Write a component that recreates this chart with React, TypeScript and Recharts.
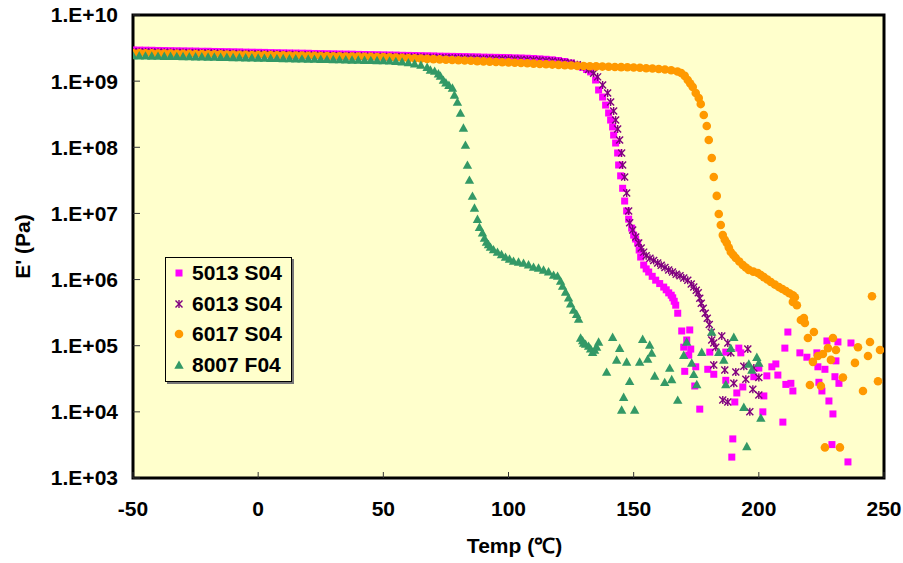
import { ScatterChart, Scatter, XAxis, YAxis, CartesianGrid, ReferenceArea, Label } from 'recharts'

type Pt = [number, number]

const xTicks = [-50, 0, 50, 100, 150, 200, 250]
const yTicks = [1e3, 1e4, 1e5, 1e6, 1e7, 1e8, 1e9, 1e10]

// 5013 S04
const s5013: Pt[] = [
  [-50, 2.96e9], [-47.5, 2.95e9], [-45, 2.94e9], [-42.5, 2.93e9], [-40, 2.91e9], [-37.5, 2.9e9], [-35, 2.89e9], [-32.5, 2.88e9],
  [-30, 2.87e9], [-27.5, 2.86e9], [-25, 2.85e9], [-22.5, 2.83e9], [-20, 2.83e9], [-17.5, 2.81e9], [-15, 2.8e9], [-12.5, 2.79e9],
  [-10, 2.78e9], [-7.5, 2.77e9], [-5, 2.75e9], [-2.5, 2.74e9], [0, 2.73e9], [2.5, 2.72e9], [5, 2.7e9], [7.5, 2.69e9],
  [10, 2.68e9], [12.5, 2.67e9], [15, 2.66e9], [17.5, 2.65e9], [20, 2.64e9], [22.5, 2.62e9], [25, 2.61e9], [27.5, 2.6e9],
  [30, 2.59e9], [32.5, 2.58e9], [35, 2.57e9], [37.5, 2.56e9], [40, 2.54e9], [42.5, 2.53e9], [45, 2.52e9], [47.5, 2.51e9],
  [50, 2.5e9], [52.5, 2.49e9], [55, 2.48e9], [57.5, 2.46e9], [60, 2.45e9], [62.5, 2.44e9], [65, 2.43e9], [67.5, 2.42e9],
  [70, 2.41e9], [72.5, 2.39e9], [75, 2.38e9], [77.5, 2.37e9], [80, 2.36e9], [82.5, 2.35e9], [85, 2.34e9], [87.5, 2.33e9],
  [90, 2.31e9], [92.5, 2.3e9], [95, 2.29e9], [97.5, 2.28e9], [100, 2.27e9], [102.5, 2.25e9], [105, 2.24e9], [107.5, 2.22e9],
  [110, 2.2e9], [112.5, 2.17e9], [115, 2.14e9], [117.5, 2.1e9], [120, 2.05e9], [122.5, 1.98e9], [125, 1.88e9], [127.5, 1.75e9],
  [129.5, 1.62e9], [131.2, 1.5e9], [132.8, 1.38e9], [134.8, 1.04e9], [136, 7.35e8], [137.6, 5.75e8], [138.8, 4.35e8],
  [140, 3.3e8], [140.8, 2.58e8], [141.6, 2.03e8], [142, 1.53e8], [142.8, 1.16e8], [143.6, 8.2e7], [144, 5.4e7], [144.8, 3.7e7],
  [145.6, 2.4e7], [146.4, 1.54e7], [147.2, 1.09e7], [148, 8.2e6], [149.2, 6.0e6], [150, 4.7e6], [150.8, 4.1e6], [151.6, 3.57e6],
  [152.2, 2.8e6], [152.8, 2.19e6], [154, 1.66e6], [155, 1.45e6], [156, 1.3e6], [157.4, 1.12e6], [158.8, 9.8e5], [160.4, 8.7e5],
  [162, 7.7e5], [163, 7.0e5], [164, 6.3e5], [165, 5.8e5], [165.6, 5.3e5], [166.2, 4.7e5], [166.8, 4.1e5], [167.6, 3.1e5],
  [169.2, 1.67e5], [172.4, 1.73e5], [171.2, 1.22e5], [170, 9.5e4], [172.8, 8.9e4], [172, 7.2e4], [170.4, 4.1e4], [174.8, 4.8e4],
  [176.4, 1.1e4], [174.4, 2.46e4], [179.6, 4.4e4], [182, 3.7e4], [180.4, 8.0e4], [186.8, 8.0e4], [192, 9.2e4], [192.8, 7.8e4],
  [200, 4.6e4], [203.2, 3.5e4], [205.2, 4.8e4], [206.8, 5.3e4], [207.6, 3.6e4], [210.8, 2.6e4], [212.8, 2.7e4], [213.6, 2.07e4],
  [202, 1.74e4], [191.2, 1.93e4], [193.6, 2.38e4], [186.8, 3.0e4], [190.4, 1.41e4], [201.6, 1.0e4], [209.6, 7.0e3], [189.6, 3.9e3],
  [189.2, 2.07e3], [211.6, 1.61e5], [210.4, 9.2e4], [216.4, 7.8e4], [219.2, 6.7e4], [223.2, 7.8e4], [223.6, 4.8e4], [226.4, 4.4e4],
  [227.2, 1.18e5], [231.6, 1.14e5], [236.8, 1.1e5], [230.8, 5.9e4], [224, 2.8e4], [230.4, 3.4e4], [232, 2.7e4], [225.2, 2.07e4],
  [228, 1.46e4], [229.6, 9.3e3], [229.2, 3.2e3], [235.6, 1.75e3], [198, 3.4e4],
]

// 6013 S04
const s6013: Pt[] = [
  [-50, 2.79e9], [-47.5, 2.78e9], [-45, 2.77e9], [-42.5, 2.76e9], [-40, 2.74e9], [-37.5, 2.73e9], [-35, 2.72e9], [-32.5, 2.71e9],
  [-30, 2.7e9], [-27.5, 2.69e9], [-25, 2.68e9], [-22.5, 2.67e9], [-20, 2.66e9], [-17.5, 2.65e9], [-15, 2.64e9], [-12.5, 2.62e9],
  [-10, 2.61e9], [-7.5, 2.6e9], [-5, 2.59e9], [-2.5, 2.58e9], [0, 2.57e9], [2.5, 2.56e9], [5, 2.55e9], [7.5, 2.54e9],
  [10, 2.53e9], [12.5, 2.52e9], [15, 2.5e9], [17.5, 2.49e9], [20, 2.48e9], [22.5, 2.47e9], [25, 2.46e9], [27.5, 2.45e9],
  [30, 2.44e9], [32.5, 2.43e9], [35, 2.42e9], [37.5, 2.41e9], [40, 2.4e9], [42.5, 2.38e9], [45, 2.37e9], [47.5, 2.36e9],
  [50, 2.35e9], [52.5, 2.34e9], [55, 2.33e9], [57.5, 2.32e9], [60, 2.31e9], [62.5, 2.3e9], [65, 2.29e9], [67.5, 2.28e9],
  [70, 2.27e9], [72.5, 2.26e9], [75, 2.25e9], [77.5, 2.24e9], [80, 2.23e9], [82.5, 2.22e9], [85, 2.21e9], [87.5, 2.2e9],
  [90, 2.19e9], [92.5, 2.18e9], [95, 2.17e9], [97.5, 2.16e9], [100, 2.15e9], [102.5, 2.14e9], [105, 2.13e9], [107.5, 2.11e9],
  [110, 2.09e9], [112.5, 2.07e9], [115, 2.04e9], [117.5, 2.01e9], [120, 1.97e9], [122.5, 1.92e9], [125, 1.86e9], [127.5, 1.77e9],
  [130, 1.65e9], [132, 1.5e9], [134, 1.32e9], [135.6, 1.16e9], [137.6, 8.75e8], [139.6, 6.6e8], [140.8, 4.84e8], [142, 3.54e8],
  [142.8, 2.58e8], [143.6, 1.89e8], [144.4, 1.29e8], [145.2, 8.2e7], [145.6, 5.4e7], [146.4, 3.56e7], [147.2, 2.04e7],
  [148, 1.09e7], [148.4, 7.2e6], [149.6, 5.6e6], [150.8, 4.4e6], [152, 3.57e6], [153, 3.0e6], [154, 2.6e6], [155, 2.3e6],
  [156.5, 2.1e6], [158, 1.95e6], [159.6, 1.78e6], [161, 1.65e6], [162.5, 1.52e6], [164, 1.4e6], [165.5, 1.3e6], [167, 1.2e6],
  [168.5, 1.14e6], [170, 1.06e6], [171.6, 9.8e5], [173, 8.6e5], [174, 7.7e5], [175, 6.9e5], [175.8, 6.3e5], [176.4, 5.2e5],
  [177, 4.4e5], [177.8, 3.7e5], [178.6, 3.1e5], [179.4, 2.6e5], [180.2, 2.1e5], [181, 1.6e5], [181.2, 1.22e5], [182, 1.1e5],
  [182.8, 9.5e4], [185.2, 1.4e5], [187.6, 1.1e5], [188.8, 7.8e4], [195.6, 8.9e4], [182, 5.1e4], [186.4, 4.3e4], [190.8, 4.0e4],
  [190, 2.7e4], [194.8, 3.1e4], [194, 4.9e4], [198, 4.6e4], [200, 3.3e4], [197.6, 2.2e4], [200, 1.8e4], [185.6, 1.51e4],
  [187.6, 1.41e4], [196.4, 1.0e4],
]

// 6017 S04
const s6017: Pt[] = [
  [-50, 2.66e9], [-47.5, 2.65e9], [-45, 2.64e9], [-42.5, 2.63e9], [-40, 2.62e9], [-37.5, 2.61e9], [-35, 2.61e9], [-32.5, 2.6e9],
  [-30, 2.59e9], [-27.5, 2.58e9], [-25, 2.57e9], [-22.5, 2.56e9], [-20, 2.55e9], [-17.5, 2.55e9], [-15, 2.54e9], [-12.5, 2.53e9],
  [-10, 2.52e9], [-7.5, 2.51e9], [-5, 2.5e9], [-2.5, 2.49e9], [0, 2.49e9], [2.5, 2.48e9], [5, 2.47e9], [7.5, 2.46e9],
  [10, 2.45e9], [12.5, 2.44e9], [15, 2.43e9], [17.5, 2.43e9], [20, 2.42e9], [22.5, 2.41e9], [25, 2.4e9], [27.5, 2.39e9],
  [30, 2.38e9], [32.5, 2.37e9], [35, 2.36e9], [37.5, 2.36e9], [40, 2.35e9], [42.5, 2.34e9], [45, 2.33e9], [47.5, 2.32e9],
  [50, 2.31e9], [52.5, 2.29e9], [55, 2.27e9], [57.5, 2.25e9], [60, 2.23e9], [62.5, 2.21e9], [65, 2.19e9], [67.5, 2.17e9],
  [70, 2.15e9], [72.5, 2.13e9], [75, 2.11e9], [77.5, 2.09e9], [80, 2.07e9], [82.5, 2.05e9], [85, 2.03e9], [87.5, 2.01e9],
  [90, 1.99e9], [92.5, 1.97e9], [95, 1.95e9], [97.5, 1.93e9], [100, 1.92e9], [102.5, 1.9e9], [105, 1.88e9], [107.5, 1.86e9],
  [110, 1.84e9], [112.5, 1.82e9], [115, 1.8e9], [117.5, 1.78e9], [120, 1.76e9], [122.5, 1.74e9], [125, 1.72e9], [127.5, 1.7e9],
  [130, 1.69e9], [132.5, 1.68e9], [135, 1.67e9], [137.5, 1.66e9], [140, 1.65e9], [142.5, 1.64e9], [145, 1.63e9], [147.5, 1.62e9],
  [150, 1.61e9], [152.5, 1.59e9], [155, 1.57e9], [157.5, 1.55e9], [160, 1.53e9], [162.5, 1.5e9], [165, 1.46e9], [167.5, 1.4e9],
  [169, 1.33e9], [170.4, 1.2e9], [171.6, 1.04e9], [172.6, 9.2e8], [173.6, 8.15e8], [174.8, 6.6e8], [176, 5.56e8], [176.8, 4.5e8],
  [178, 3.08e8], [179.2, 2.1e8], [180, 1.29e8], [181.2, 6.9e7], [182, 3.56e7], [183.2, 1.84e7], [184, 9.8e6], [184.8, 6.7e6],
  [185.6, 4.7e6], [186.4, 4.0e6], [187.2, 3.57e6], [188, 3.05e6], [188.8, 2.61e6], [189.8, 2.35e6], [190.8, 2.12e6],
  [192.2, 1.88e6], [193.6, 1.66e6], [194.8, 1.52e6], [196, 1.4e6], [197.8, 1.32e6], [199.6, 1.26e6], [200.8, 1.17e6],
  [202, 1.09e6], [203.4, 1.0e6], [204.8, 9.2e5], [206.4, 8.4e5], [208, 7.7e5], [209.4, 7.2e5], [210.8, 6.7e5], [212.2, 6.2e5],
  [213.6, 5.8e5], [214.4, 5.4e5], [213.6, 4.6e5], [215.2, 4.1e5], [216.8, 2.45e5], [218, 2.63e5], [218.4, 2.2e5], [222, 1.61e5],
  [219.6, 1.31e5], [229.6, 1.31e5], [227.6, 9.2e4], [230.8, 8.6e4], [225.6, 7.5e4], [223.6, 7.0e4], [221.6, 5.7e4], [228.8, 6.1e4],
  [239.6, 9.5e4], [244.4, 1.14e5], [248.4, 8.6e4], [243.6, 7.0e4], [238.4, 5.5e4], [233.6, 3.3e4], [224.8, 2.46e4], [220.4, 2.55e4],
  [241.6, 2.07e4], [247.6, 2.9e4], [226.4, 2.9e3], [232.4, 2.9e3], [245.2, 5.6e5],
]

// 8007 F04
const s8007: Pt[] = [
  [-50, 2.44e9], [-47.5, 2.43e9], [-45, 2.42e9], [-42.5, 2.41e9], [-40, 2.4e9], [-37.5, 2.39e9], [-35, 2.39e9], [-32.5, 2.38e9],
  [-30, 2.37e9], [-27.5, 2.36e9], [-25, 2.35e9], [-22.5, 2.34e9], [-20, 2.33e9], [-17.5, 2.32e9], [-15, 2.31e9], [-12.5, 2.3e9],
  [-10, 2.29e9], [-7.5, 2.28e9], [-5, 2.27e9], [-2.5, 2.26e9], [0, 2.25e9], [2.5, 2.24e9], [5, 2.23e9], [7.5, 2.22e9],
  [10, 2.21e9], [12.5, 2.2e9], [15, 2.19e9], [17.5, 2.18e9], [20, 2.17e9], [22.5, 2.16e9], [25, 2.15e9], [27.5, 2.14e9],
  [30, 2.13e9], [32.5, 2.12e9], [35, 2.11e9], [37.5, 2.1e9], [40, 2.09e9], [42.5, 2.08e9], [45, 2.07e9], [47.5, 2.06e9],
  [50, 2.05e9], [52.5, 2.03e9], [55, 2.0e9], [57.5, 1.96e9], [60, 1.91e9], [62.5, 1.84e9], [65, 1.75e9], [67.5, 1.63e9],
  [68.8, 1.48e9], [70.5, 1.42e9], [72, 1.3e9], [72.8, 1.2e9], [74, 1.04e9], [75, 9.5e8], [76.2, 8.7e8], [77.6, 7.9e8],
  [78.4, 6.2e8], [79.6, 4.84e8], [80.8, 3.3e8], [82, 1.96e8], [82.8, 1.08e8], [83.6, 5.4e7], [84.4, 3.2e7], [85.6, 1.83e7],
  [86.4, 1.21e7], [87.6, 8.2e6], [88.4, 6.2e6], [89.6, 5.1e6], [90.4, 4.25e6], [91.2, 3.7e6], [92, 3.4e6], [92.8, 3.1e6],
  [94, 2.85e6], [95.6, 2.61e6], [97.2, 2.4e6], [98.8, 2.19e6], [100.4, 2.05e6], [102, 1.91e6], [104, 1.85e6], [106, 1.78e6],
  [108, 1.68e6], [110, 1.55e6], [112, 1.5e6], [114, 1.4e6], [116, 1.32e6], [118, 1.17e6], [119.6, 1.13e6], [120.8, 9.5e5],
  [121.6, 8.0e5], [122.8, 6.5e5], [124, 5.3e5], [124.8, 4.3e5], [126, 3.47e5], [127.2, 3.0e5], [128, 2.53e5], [128.8, 1.31e5],
  [129.6, 1.2e5], [130, 1.1e5], [130.8, 1.06e5], [132, 9.9e4], [132.8, 9.0e4], [133.6, 8.0e4], [134.4, 8.6e4], [135.2, 9.6e4],
  [136, 1.14e5], [141.6, 1.35e5], [144.4, 9.2e4], [143.2, 6.1e4], [147.2, 5.7e4], [139.2, 4.0e4], [148.4, 2.9e4], [146, 1.67e4],
  [145.2, 1.07e4], [150.4, 1.07e4], [153.6, 1.26e5], [156.4, 1.03e5], [157.2, 7.8e4], [155.6, 6.3e4], [152.4, 5.7e4],
  [158.4, 3.5e4], [164.4, 4.6e4], [162.4, 2.8e4], [165.2, 3.1e4], [167.6, 1.51e4], [171.2, 1.14e5], [170, 7.2e4], [173.2, 5.5e4],
  [174, 3.7e4], [175.2, 2.6e4], [177.2, 8.0e4], [181.2, 1.61e5], [184, 8.0e4], [186, 6.1e4], [188.8, 9.2e4], [190, 1.35e5],
  [186.8, 2.6e4], [194, 1.18e4], [195.2, 3.0e3], [196, 5.3e4], [199.2, 6.7e4], [200, 5.5e4], [197.2, 4.3e4], [200.8, 8.1e3],
]

const font = '"Liberation Sans", Arial, sans-serif'
const plotBg = '#FFFFCC'

type Kind = 'square' | 'star' | 'circle' | 'triangle'

const series: { name: string; color: string; kind: Kind; data: Pt[] }[] = [
  { name: '5013 S04', color: '#FF00FF', kind: 'square', data: s5013 },
  { name: '6013 S04', color: '#800080', kind: 'star', data: s6013 },
  { name: '6017 S04', color: '#FF9900', kind: 'circle', data: s6017 },
  { name: '8007 F04', color: '#339966', kind: 'triangle', data: s8007 },
]

function Marker({ kind, cx, cy, color }: { kind: Kind; cx: number; cy: number; color: string }) {
  if (kind === 'square') return <rect x={cx - 3.5} y={cy - 3.5} width={7} height={7} fill={color} />
  if (kind === 'circle') return <circle cx={cx} cy={cy} r={4.3} fill={color} />
  if (kind === 'triangle')
    return <polygon points={`${cx},${cy - 4.6} ${cx + 4.7},${cy + 3.8} ${cx - 4.7},${cy + 3.8}`} fill={color} />
  return (
    <g stroke={color} strokeWidth={1.4}>
      <line x1={cx - 3.5} y1={cy - 3.5} x2={cx + 3.5} y2={cy + 3.5} />
      <line x1={cx - 3.5} y1={cy + 3.5} x2={cx + 3.5} y2={cy - 3.5} />
      <line x1={cx} y1={cy - 4} x2={cx} y2={cy + 4} />
    </g>
  )
}

const yFmt = (v: number) => `1.E+${String(Math.round(Math.log10(v))).padStart(2, '0')}`

const labelStyle = { fontSize: 21, fontWeight: 'bold', fontFamily: font }

// tick size + margin, so the inward tick mark starts at the plot edge
const X_GAP = 23
const Y_GAP = 15

function XTick({ x, y, payload }: any) {
  const edge = y - X_GAP
  return (
    <g>
      <line x1={x} y1={edge} x2={x} y2={edge - 6} stroke="#333" />
      <text x={x} y={y} dy="0.71em" textAnchor="middle" fill="#000" style={labelStyle}>{payload.value}</text>
    </g>
  )
}

function YTick({ x, y, payload }: any) {
  const edge = x + Y_GAP
  return (
    <g>
      <line x1={edge} y1={y} x2={edge + 7} y2={y} stroke="#333" />
      <text x={x} y={y} dy="0.355em" textAnchor="end" fill="#000" style={labelStyle}>{yFmt(payload.value)}</text>
    </g>
  )
}

function XTitle(props: any) {
  const vb = props.viewBox ?? { x: 133, y: 478, width: 751, height: 85 }
  return (
    <text x={vb.x + vb.width / 2 + 6} y={vb.y + vb.height - 10} textAnchor="middle" style={labelStyle} fill="#000">
      Temp (℃)
    </text>
  )
}

function YTitle(props: any) {
  const vb = props.viewBox ?? { x: 0, y: 15, width: 133, height: 463 }
  const cx = vb.x + 22
  const cy = vb.y + vb.height / 2
  return (
    <text x={cx} y={cy} transform={`rotate(-90 ${cx} ${cy})`} textAnchor="middle" dominantBaseline="central"
      style={labelStyle} fill="#000">
      E' (Pa)
    </text>
  )
}

export default function App() {
  return (
    <div style={{ position: 'absolute', left: 0, top: 0, width: 903, height: 563, background: '#fff' }}>
      <ScatterChart width={903} height={563} margin={{ top: 15, right: 19, bottom: 0, left: 0 }}>
        <CartesianGrid horizontal={false} vertical={false} fill={plotBg} />
        <XAxis type="number" dataKey="t" domain={[-50, 250]} ticks={xTicks} interval={0} allowDataOverflow
          height={85} axisLine={false} tickLine={false} tickSize={6} tickMargin={17} tick={<XTick />}>
          <Label content={<XTitle />} />
        </XAxis>
        <YAxis type="number" dataKey="e" scale="log" domain={[1e3, 1e10]} ticks={yTicks} interval={0} allowDataOverflow
          width={133} axisLine={false} tickLine={false} tickSize={6} tickMargin={9} tick={<YTick />}>
          <Label content={<YTitle />} />
        </YAxis>
        {series.map((s) => (
          <Scatter key={s.name} name={s.name} data={s.data.map(([t, e]) => ({ t, e }))} isAnimationActive={false}
            shape={(p: any) => <Marker kind={s.kind} cx={p.cx} cy={p.cy} color={s.color} />} />
        ))}
        <ReferenceArea x1={-50} x2={250} y1={1e3} y2={1e10} fill="none" stroke="#000" strokeWidth={3} />
      </ScatterChart>

      <div style={{
        position: 'absolute', left: 165, top: 257, width: 125, height: 123, background: plotBg,
        border: '1px solid #000', boxShadow: '2px 2px 0 #777', fontFamily: font,
      }}>
        {series.map((s) => (
          <div key={s.name} style={{ height: 30.5, display: 'flex', alignItems: 'center' }}>
            <svg width={14} height={14} style={{ marginLeft: 6, marginRight: 6 }}>
              <Marker kind={s.kind} cx={7} cy={7} color={s.color} />
            </svg>
            <span style={{ fontSize: 21, fontWeight: 'bold', color: '#000', whiteSpace: 'nowrap' }}>{s.name}</span>
          </div>
        ))}
      </div>
    </div>
  )
}
